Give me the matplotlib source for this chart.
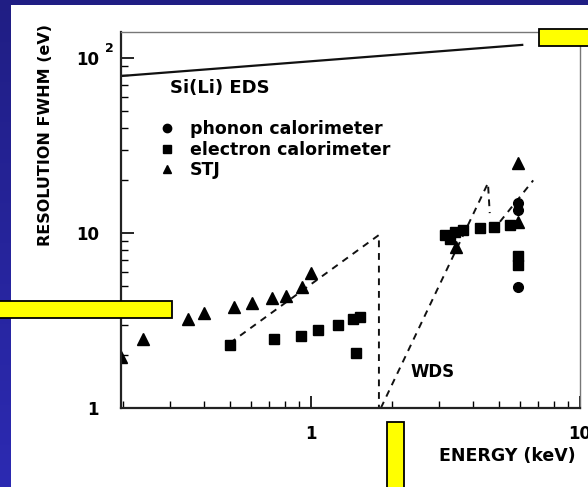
import numpy as np
import matplotlib
matplotlib.use("Agg")
import matplotlib.pyplot as plt
from matplotlib.patches import Rectangle
from matplotlib.lines import Line2D

# phonon calorimeter (circles)
phonon_e = [5.9, 5.9, 5.9]
phonon_r = [4.9, 13.5, 14.8]

# electron calorimeter (squares)
electron_e = [0.50, 0.73, 0.92, 1.06, 1.26, 1.43, 1.52, 1.47,
              3.15, 3.3, 3.43, 3.68, 4.25, 4.79, 5.49, 5.9, 5.9]
electron_r = [2.3, 2.48, 2.58, 2.79, 2.98, 3.22, 3.3, 2.06,
              9.7, 9.2, 10.1, 10.4, 10.7, 10.8, 11.1, 6.6, 7.4]

# STJ (triangles)
stj_e = [0.197, 0.237, 0.349, 0.40, 0.518, 0.604, 0.716, 0.807, 0.926, 1.0, 3.45, 5.9, 5.9]
stj_r = [1.96, 2.48, 3.23, 3.49, 3.78, 3.98, 4.25, 4.37, 4.91, 5.9, 8.3, 11.6, 25]

# Si(Li) EDS line
sili_e = [0.197, 6.1]
sili_r = [79, 119]

# dashed curves
stj_curve_e = [0.5, 1.79, 1.79]
stj_curve_r = [2.35, 9.75, 1.0]
wds_e = [1.82, 4.55, 4.62]
wds_r = [1.0, 19.3, 13.0]
wds2_e = [5.04, 6.7]
wds2_r = [11.6, 20.0]

W, H = 588, 487
plt.rcParams['font.family'] = ['DejaVu Sans']
plt.rcParams['font.weight'] = 'bold'

fig = plt.figure(figsize=(W / 100, H / 100), dpi=100)

# slide background (blue gradient) + white page
bg = fig.add_axes([0, 0, 1, 1], zorder=-10)
grad = np.linspace(0, 1, 256).reshape(-1, 1)
top_c = np.array([32, 30, 132]) / 255
bot_c = np.array([44, 42, 178]) / 255
img = top_c + grad[..., None] * (bot_c - top_c)
bg.imshow(img, aspect='auto', extent=[0, 1, 0, 1])
bg.add_patch(Rectangle((11 / W, 0), 1, 1 - 5 / H, facecolor='white', edgecolor='none'))
bg.set_xlim(0, 1)
bg.set_ylim(0, 1)
bg.axis('off')

ax = fig.add_axes([121 / W, 1 - 408 / H, (580 - 121) / W, (408 - 32) / H])
ax.set_xscale('log')
ax.set_yscale('log')
ax.set_xlim(0.197, 10)
ax.set_ylim(1, 141)

# Si(Li)
ax.plot(sili_e, sili_r, color='#111111', lw=1.6)

dash = dict(color='#111111', lw=1.4, dashes=(3.5, 3))
ax.plot(stj_curve_e, stj_curve_r, **dash)
ax.plot(wds_e, wds_r, **dash)
ax.plot(wds2_e, wds2_r, **dash)

ax.plot(stj_e, stj_r, '^', color='black', ms=8, ls='none')
ax.plot(electron_e, electron_r, 's', color='black', ms=7, ls='none')
ax.plot(phonon_e, phonon_r, 'o', color='black', ms=7, ls='none')

ax.set_xticks([1, 10])
ax.set_xticklabels(['1', '10'])
ax.set_yticks([1, 10, 100])
ax.set_yticklabels(['1', '10', '10'])
ax.tick_params(which='major', direction='in', length=9, width=1.2, labelsize=12)
ax.tick_params(which='minor', direction='in', length=5, width=1.0)
ax.tick_params(axis='x', which='major', pad=12)
ax.tick_params(axis='y', which='major', pad=16)
ax.annotate('2', xy=(-0.025, 100), xycoords=('axes fraction', 'data'),
            xytext=(0, 7), textcoords='offset points', fontsize=9,
            ha='center', va='center')

for s in ['left', 'bottom']:
    ax.spines[s].set_linewidth(1.6)
    ax.spines[s].set_color('#222222')
for s in ['top', 'right']:
    ax.spines[s].set_linewidth(1.0)
    ax.spines[s].set_color('#777777')

ax.set_xlabel('ENERGY (keV)', fontsize=12.5, fontweight='bold')
ax.xaxis.set_label_coords(0.841, -0.105)
ax.set_ylabel('RESOLUTION FWHM (eV)', fontsize=11.5, fontweight='bold')
ax.yaxis.set_label_coords(-0.148, 0.726)

ax.text(0.107, 0.851, 'Si(Li) EDS', transform=ax.transAxes, fontsize=13,
        ha='left', va='center')
ax.text(0.63, 0.096, 'WDS', transform=ax.transAxes, fontsize=12,
        ha='left', va='center')

handles = [Line2D([], [], marker='o', color='black', ls='none', ms=6),
           Line2D([], [], marker='s', color='black', ls='none', ms=6),
           Line2D([], [], marker='^', color='black', ls='none', ms=6)]
ax.legend(handles, ['phonon calorimeter', 'electron calorimeter', 'STJ'],
          loc='upper left', bbox_to_anchor=(0.086, 0.766), frameon=False,
          fontsize=12.5, handlelength=0.8, handletextpad=0.9,
          labelspacing=0.15, borderpad=0, borderaxespad=0)

# yellow boxes on the slide
for x0, y0, x1, y1 in [(539, 29, 592, 46), (-3, 301, 172, 318), (387, 422, 404, 492)]:
    fig.patches.append(Rectangle((x0 / W, 1 - y1 / H), (x1 - x0) / W, (y1 - y0) / H,
                                 transform=fig.transFigure, facecolor='#ffff00',
                                 edgecolor='black', lw=1.3, zorder=20))

fig.savefig('out.png', dpi=100)
